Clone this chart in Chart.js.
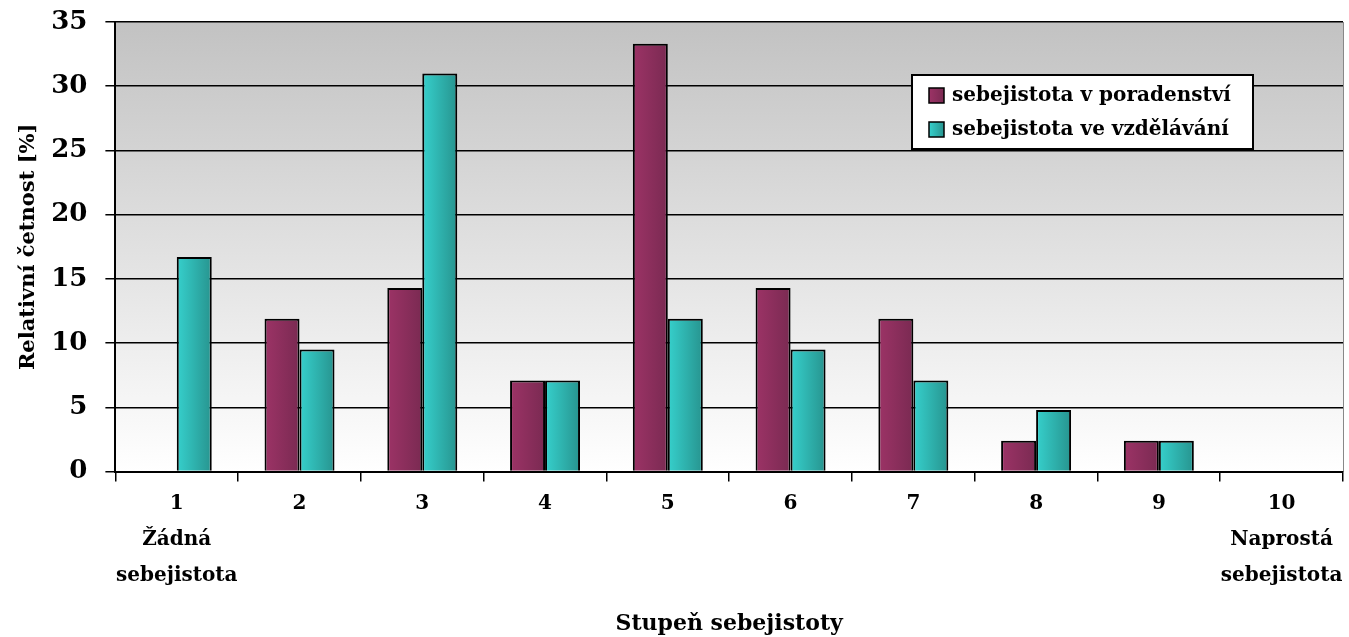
<!DOCTYPE html>
<html>
<head>
<meta charset="utf-8">
<script src="https://cdn.jsdelivr.net/npm/chart.js@4"></script>
<style>
  html, body { margin: 0; padding: 0; background: #fff; }
  #wrap { width: 1349px; height: 637px; }
</style>
</head>
<body>
<div id="wrap"><canvas id="chart" width="1349" height="637"></canvas></div>
<script>
// stupen sebejistoty - relativni cetnost
const categories = ['1', '2', '3', '4', '5', '6', '7', '8', '9', '10'];
const subLabels = [['Žádná', 'sebejistota'], [], [], [], [], [], [], [], [], ['Naprostá', 'sebejistota']];
const poradenstvi = [0, 11.9, 14.3, 7.1, 33.3, 14.3, 11.9, 2.4, 2.4, 0];
const vzdelavani = [16.7, 9.5, 31.0, 7.1, 11.9, 9.5, 7.1, 4.8, 2.4, 0];
const seriesNames = ['sebejistota v poradenství', 'sebejistota ve vzdělávání'];
const yTicks = [0, 5, 10, 15, 20, 25, 30, 35];

const FONT = "'DejaVu Serif', serif";
const CAT_PCT = 0.57;

const maroon = ['#9c3366', '#7a2a52'];
const teal = ['#36d0cc', '#27948f'];

function barGradient(ctx, colors) {
  const chart = ctx.chart;
  const xs = chart.scales.x;
  if (!xs || xs.width == null) return colors[0];
  const center = xs.getPixelForValue(ctx.dataIndex);
  const half = xs.width / categories.length * CAT_PCT / 2;
  const x0 = ctx.datasetIndex === 0 ? center - half : center;
  const x1 = x0 + half;
  const g = chart.ctx.createLinearGradient(x0, 0, x1, 0);
  g.addColorStop(0, colors[0]);
  g.addColorStop(1, colors[1]);
  return g;
}

const bgPlugin = {
  id: 'bg',
  beforeDraw(chart) {
    const a = chart.chartArea, c = chart.ctx;
    const g = c.createLinearGradient(0, a.top, 0, a.bottom);
    g.addColorStop(0, '#c2c2c2');
    g.addColorStop(1, '#ffffff');
    c.save();
    c.fillStyle = g;
    c.fillRect(a.left, a.top, a.right - a.left, a.bottom - a.top);
    c.strokeStyle = '#888';
    c.lineWidth = 1;
    c.beginPath();
    c.moveTo(a.right + 0.5, a.top);
    c.lineTo(a.right + 0.5, a.bottom);
    c.stroke();
    c.restore();
  }
};

const legendPlugin = {
  id: 'boxLegend',
  afterDraw(chart) {
    const c = chart.ctx;
    const x = 912, y = 75, w = 341, h = 74;
    c.save();
    c.fillStyle = '#fff';
    c.fillRect(x, y, w, h);
    c.strokeStyle = '#000';
    c.lineWidth = 2;
    c.strokeRect(x, y, w, h);
    const cols = [maroon, teal];
    c.font = 'bold 20px ' + FONT;
    c.textBaseline = 'middle';
    seriesNames.forEach((name, i) => {
      const my = y + 13 + i * 34;
      const g = c.createLinearGradient(x + 17, 0, x + 32, 0);
      g.addColorStop(0, cols[i][0]);
      g.addColorStop(1, cols[i][1]);
      c.fillStyle = g;
      c.fillRect(x + 17, my, 15, 15);
      c.lineWidth = 1.5;
      c.strokeRect(x + 17, my, 15, 15);
      c.fillStyle = '#000';
      c.fillText(name, x + 40, my + 8);
    });
    c.restore();
  }
};

chartIt();

function chartIt() {
  const ctx = document.getElementById('chart').getContext('2d');
  new Chart(ctx, {
    type: 'bar',
    data: {
      labels: categories.map((c, i) => [c].concat(subLabels[i])),
      datasets: [{
        label: seriesNames[0],
        data: poradenstvi,
        backgroundColor: c => barGradient(c, maroon),
        borderColor: '#000',
        borderWidth: 2
      }, {
        label: seriesNames[1],
        data: vzdelavani,
        backgroundColor: c => barGradient(c, teal),
        borderColor: '#000',
        borderWidth: 2
      }]
    },
    options: {
      responsive: false,
      animation: false,
      layout: { padding: { top: 0, right: 6, left: 12, bottom: 6 } },
      datasets: { bar: { barPercentage: 1, categoryPercentage: CAT_PCT } },
      plugins: { legend: { display: false }, tooltip: { enabled: false } },
      scales: {
        x: {
          grid: { offset: true, drawOnChartArea: false, drawTicks: true, tickLength: 10, color: '#000', lineWidth: 1.5 },
          border: { color: '#000', width: 2 },
          ticks: { autoSkip: false, color: '#000', font: { family: FONT, size: 20, weight: 'bold', lineHeight: 1.8 }, maxRotation: 0, padding: 4 },
          title: { display: true, text: 'Stupeň sebejistoty', color: '#000', font: { family: FONT, size: 22, weight: 'bold' }, padding: { top: 13, bottom: -6 } }
        },
        y: {
          min: 0, max: 35,
          afterBuildTicks: axis => { axis.ticks = yTicks.map(v => ({ value: v })); },
          afterFit: s => { s.paddingTop = 22; },
          grid: { color: '#000', lineWidth: 1.5, tickLength: 10 },
          border: { color: '#000', width: 2 },
          ticks: { color: '#000', font: { family: FONT, size: 26, weight: 'bold' }, padding: 18 },
          title: { display: true, text: 'Relativní četnost [%]', color: '#000', font: { family: FONT, size: 21, weight: 'bold' }, padding: { bottom: -8 } }
        }
      }
    },
    plugins: [bgPlugin, legendPlugin]
  });
}
</script>
</body>
</html>
